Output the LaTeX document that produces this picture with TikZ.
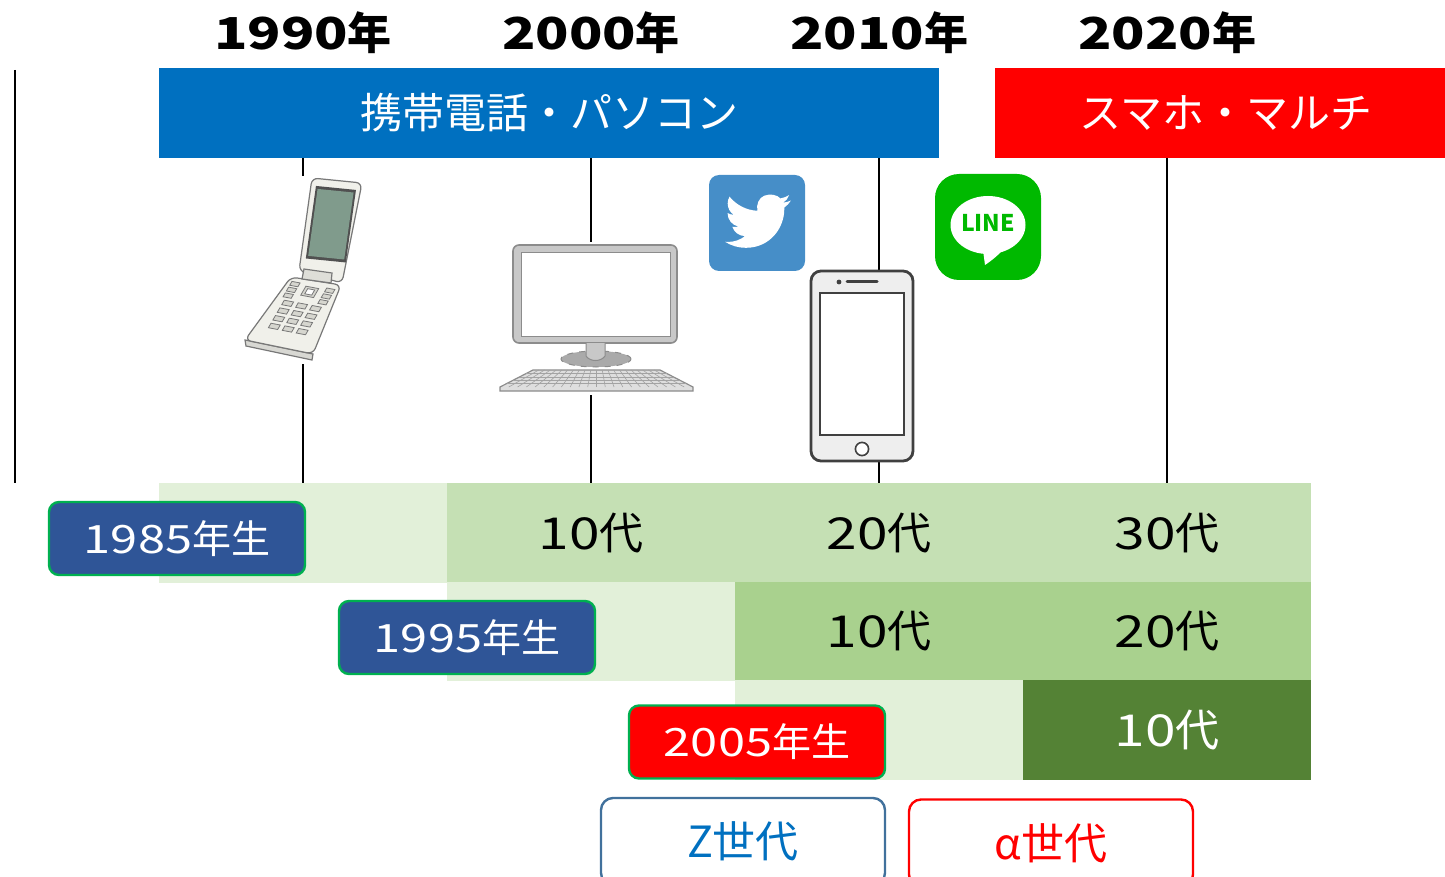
\documentclass[tikz,border=0pt]{standalone}
\usepackage{fontspec}
\setmainfont{Noto Sans CJK JP}
\usetikzlibrary{positioning}
\usepackage{xcolor}

\definecolor{barblue}{RGB}{0,112,192}
\definecolor{barred}{RGB}{255,0,0}
\definecolor{agelight}{RGB}{226,240,217}
\definecolor{agemid}{RGB}{197,224,180}
\definecolor{agedeep}{RGB}{169,209,142}
\definecolor{agedark}{RGB}{84,130,53}
\definecolor{labelblue}{RGB}{47,85,151}
\definecolor{labelgreen}{RGB}{0,176,80}
\definecolor{zblue}{RGB}{65,113,156}
\definecolor{twblue}{RGB}{70,142,200}
\definecolor{linegreen}{RGB}{0,185,0}
\definecolor{phonegray}{RGB}{64,64,64}
\definecolor{phonebody}{RGB}{238,238,238}
\definecolor{monitorgray}{RGB}{140,140,140}
\definecolor{monitorfill}{RGB}{200,200,200}
\definecolor{keygray}{RGB}{222,222,222}
\definecolor{flipbody}{RGB}{240,240,234}
\definecolor{fliplines}{RGB}{120,120,120}
\definecolor{flipkey}{RGB}{214,214,207}
\definecolor{flipscreen}{RGB}{128,155,140}
\definecolor{flipframe}{RGB}{80,80,80}
\definecolor{fliphinge}{RGB}{222,222,216}

\newcommand{\widenum}[1]{{\addfontfeature{FakeStretch=1.25}#1}}
% quad in the current (skewed) axes, centre and half sizes
\newcommand{\skewkey}[4]{(#1-#3, #2-#4) -- (#1+#3, #2-#4) -- (#1+#3, #2+#4) -- (#1-#3, #2+#4) -- cycle}

\begin{document}
\begin{tikzpicture}[x=0.5pt, y=-0.5pt,
    every node/.style={inner sep=0pt},
    yearlabel/.style={font=\fontsize{22}{26}\selectfont\bfseries},
    bar/.style={minimum height=45pt, text=white, font=\fontsize{21}{25}\selectfont},
    agecell/.style={minimum width=144.4pt, minimum height=49.6pt, font=\fontsize{22}{26}\selectfont},
    birthlabel/.style={
        rounded corners=5pt,
        draw=labelgreen,
        line width=1.2pt,
        fill=labelblue,
        text=white,
        minimum width=128pt,
        minimum height=36.5pt,
        font=\fontsize{19.5}{23}\selectfont
    },
    genlabel/.style={
        rounded corners=6pt,
        line width=1.2pt,
        fill=white,
        minimum width=142pt,
        minimum height=43.5pt,
        font=\fontsize{21.5}{26}\selectfont
    },
    timeline/.style={line width=1pt, black},
    flipkeys/.style={fliplines, fill=flipkey, line width=0.4pt}
]
    \useasboundingbox (0, 0) rectangle (1445, 877);

    % age table
    \node (age_1985_0) [agecell, fill=agelight, shift={(303, 533)}] {};
    \node (age_1985_10) [agecell, fill=agemid, shift={(591, 533)}] {\widenum{10}代};
    \node (age_1985_20) [agecell, fill=agemid, shift={(879, 533)}] {\widenum{20}代};
    \node (age_1985_30) [agecell, fill=agemid, shift={(1167, 533)}] {\widenum{30}代};

    \node (age_1995_0) [agecell, fill=agelight, shift={(591, 631.5)}] {};
    \node (age_1995_10) [agecell, fill=agedeep, shift={(879, 631.5)}] {\widenum{10}代};
    \node (age_1995_20) [agecell, fill=agedeep, shift={(1167, 631.5)}] {\widenum{20}代};

    \node (age_2005_0) [agecell, fill=agelight, shift={(879, 730)}] {};
    \node (age_2005_10) [agecell, fill=agedark, text=white, shift={(1167, 730)}] {\widenum{10}代};

    % years
    \node (year_1990) [yearlabel, shift={(303, 33)}] {\widenum{1990}年};
    \node (year_2000) [yearlabel, shift={(591, 33)}] {\widenum{2000}年};
    \node (year_2010) [yearlabel, shift={(879, 33)}] {\widenum{2010}年};
    \node (year_2020) [yearlabel, shift={(1167, 33)}] {\widenum{2020}年};

    \node (bar_keitai) [bar, fill=barblue, minimum width=390pt, shift={(549, 113)}]
    {
        携帯電話・パソコン
    };
    \node (bar_sumaho) [bar, fill=barred, minimum width=225pt, shift={(1220, 113)}]
    {
        \hspace*{6pt}スマホ・マルチ
    };

    \coordinate (axis_top) at (15, 70);
    \coordinate (axis_bottom) at (15, 483);

    \draw[timeline] (axis_top) to (axis_bottom);
    \draw[timeline] (year_1990 |- bar_keitai.south) to (year_1990 |- age_1985_0.north);
    \draw[timeline] (year_2000 |- bar_keitai.south) to (year_2000 |- age_1985_10.north);
    \draw[timeline] (year_2010 |- bar_keitai.south) to (year_2010 |- age_1985_20.north);
    \draw[timeline] (year_2020 |- bar_sumaho.south) to (year_2020 |- age_1985_30.north);

    % flip phone
    \fill[white] (240, 176) rectangle (367, 364);
    \draw[fliplines, fill=flipbody!90!black, line width=0.6pt] (245, 340) -- (246, 346) -- (312, 360) -- (313, 354) -- cycle;
    \draw[fliplines, fill=flipbody, line width=0.6pt, rounded corners=3pt] (291, 277) -- (341, 285) -- (313, 354) -- (245, 340) -- cycle;
    \begin{scope}[shift={(316, 281)}, x={(29pt, -5.5pt)}, y={(-18.5pt, -32pt)}]
        \draw[flipkeys] \skewkey{0}{0.17}{0.11}{0.07};
        \draw[fliplines, fill=white, line width=0.4pt] \skewkey{0}{0.17}{0.06}{0.04};
        \foreach \u in {-0.3, 0.3}
            \foreach \v in {0.1, 0.19, 0.28}
                \draw[flipkeys] \skewkey{\u}{\v}{0.07}{0.03};
        \foreach \u in {-0.24, 0, 0.24}
            \foreach \v in {0.39, 0.51, 0.63, 0.75}
                \draw[flipkeys] \skewkey{\u}{\v}{0.08}{0.035};
    \end{scope}
    \draw[fliplines, fill=flipbody, line width=0.6pt, rounded corners=3pt] (312, 178) -- (362, 183) -- (342, 283) -- (299, 271) -- cycle;
    \begin{scope}[shift={(312, 178)}, x={(25pt, -2.5pt)}, y={(-6.5pt, -46.5pt)}]
        \fill[flipframe] \skewkey{0.5}{0.47}{0.4}{0.39};
        \fill[flipscreen] \skewkey{0.5}{0.47}{0.36}{0.36};
    \end{scope}
    \draw[fliplines, fill=fliphinge, line width=0.6pt] (304, 269) -- (332, 273) -- (331, 283) -- (302, 279) -- cycle;

    % desktop pc
    \fill[white] (496, 242) rectangle (694, 395);
    \draw[monitorgray, fill=monitorfill, line width=0.8pt, rounded corners=3pt] (513, 245) rectangle (677, 343);
    \draw[monitorgray, fill=white, line width=0.5pt] (521, 253) rectangle (670, 336);
    \draw[monitorgray, fill=monitorfill!85!black, line width=0.5pt, dashed] (596, 359) ellipse (17.5pt and 4pt);
    \draw[monitorgray, fill=monitorfill, line width=0.5pt] (586, 343) -- (586, 356) .. controls (590, 362) and (601, 362) .. (605, 356) -- (605, 343);
    \draw[monitorgray, fill=keygray, line width=0.6pt] (533, 370) -- (660, 370) -- (693, 387) -- (693, 391) -- (500, 391) -- (500, 387) -- cycle;
    \foreach \r in {1, ..., 4}
        \draw[monitorgray!80, line width=0.3pt] (533-33*\r/5, 370+17*\r/5) -- (660+33*\r/5, 370+17*\r/5);
    \foreach \k in {1, ..., 21}
        \draw[monitorgray!80, line width=0.3pt] (533+127*\k/22, 370) -- (500+193*\k/22, 387);

    % twitter
    \fill[twblue, rounded corners=5pt] (709, 175) rectangle (805, 271);
    \begin{scope}[shift={(725, 188)}, scale=2.75]
        \fill[white] (23.953, 4.57) .. controls (23.1, 4.95) and (22.1, 5.23) .. (21.128, 5.345)
            .. controls (22.15, 4.73) and (22.92, 3.76) .. (23.291, 2.622)
            .. controls (22.34, 3.177) and (21.286, 3.581) .. (20.164, 3.806)
            .. controls (19.0, 2.5) and (16.5, 1.9) .. (14.25, 2.82)
            .. controls (12.3, 3.6) and (11.3, 6.0) .. (11.78, 8.288)
            .. controls (7.69, 8.095) and (4.067, 6.13) .. (1.64, 3.162)
            .. controls (1.2, 3.9) and (0.974, 4.75) .. (0.974, 5.637)
            .. controls (0.974, 7.347) and (1.844, 8.85) .. (3.162, 9.733)
            .. controls (2.36, 9.71) and (1.6, 9.49) .. (0.934, 9.117)
            -- (0.934, 9.177)
            .. controls (0.934, 11.52) and (2.6, 13.55) .. (4.88, 14.004)
            .. controls (4.17, 14.2) and (3.4, 14.23) .. (2.668, 14.089)
            .. controls (3.3, 16.06) and (5.14, 17.46) .. (7.272, 17.506)
            .. controls (5.52, 18.88) and (3.35, 19.62) .. (1.17, 19.611)
            .. controls (0.78, 19.611) and (0.391, 19.588) .. (0, 19.544)
            .. controls (2.25, 20.99) and (4.88, 21.76) .. (7.557, 21.753)
            .. controls (16.61, 21.753) and (21.555, 14.257) .. (21.555, 7.768)
            .. controls (21.555, 7.558) and (21.555, 7.348) .. (21.54, 7.138)
            .. controls (22.5, 6.44) and (23.33, 5.57) .. (23.953, 4.59) -- cycle;
    \end{scope}

    % line
    \fill[linegreen, rounded corners=12pt] (935, 174) rectangle (1041, 280);
    \fill[white] (988, 225) ellipse (18.75pt and 14.5pt);
    \fill[white] (983, 250) -- (1003, 250) .. controls (996, 257) and (991, 261) .. (985, 265) -- cycle;
    \node (line_logo) [text=linegreen, font=\fontsize{11.5}{12}\selectfont\bfseries, shift={(988, 223)}] {LINE};

    % smartphone
    \draw[phonegray, fill=phonebody, line width=1.4pt, rounded corners=5pt] (811, 271) rectangle (913, 461);
    \draw[phonegray, fill=white, line width=0.8pt] (820, 293) rectangle (904, 435);
    \fill[phonegray] (839, 282) circle (1.2pt);
    \draw[phonegray, line width=1.5pt, line cap=round] (847, 282) -- (877, 282);
    \draw[phonegray, fill=white, line width=0.8pt] (862, 449) circle (3.3pt);

    % birth years
    \node (born_1985) [birthlabel, shift={(177, 538.5)}]
    {
        \widenum{1985}年生
    };
    \node (born_1995) [birthlabel, shift={(467, 637.5)}]
    {
        \widenum{1995}年生
    };
    \node (born_2005) [birthlabel, fill=barred, shift={(757, 742)}]
    {
        \widenum{2005}年生
    };

    % generations
    \node (gen_z) [genlabel, draw=zblue, text=barblue, shift={(743, 841.5)}]
    {
        Z世代
    };
    \node (gen_alpha) [genlabel, draw=barred, text=barred, shift={(1051, 843)}]
    {
        α世代
    };
\end{tikzpicture}
\end{document}
